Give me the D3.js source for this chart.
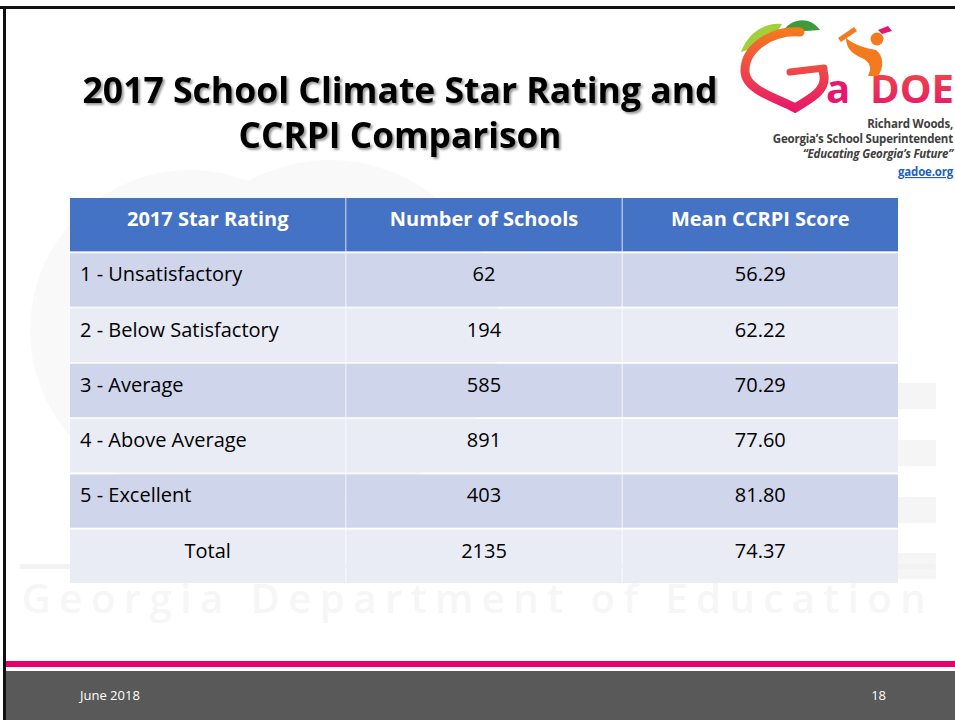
<!DOCTYPE html>
<html>
<head>
<meta charset="utf-8">
<script src="https://cdn.jsdelivr.net/npm/d3@7"></script>
<style>
  html, body { margin: 0; padding: 0; background: #fff; }
  svg { display: block; }
</style>
</head>
<body>
<svg id="slide" width="955" height="720"></svg>
<script>
// table data
const headers = ["2017 Star Rating", "Number of Schools", "Mean CCRPI Score"];
const ratings = ["1 - Unsatisfactory", "2 - Below Satisfactory", "3 - Average", "4 - Above Average", "5 - Excellent", "Total"];
const schoolCounts = ["62", "194", "585", "891", "403", "2135"];
const meanScores = ["56.29", "62.22", "70.29", "77.60", "81.80", "74.37"];

const titleLines = ["2017 School Climate Star Rating and", "CCRPI Comparison"];
const logoLines = ["Richard Woods,", "Georgia\u2019s School Superintendent", "\u201cEducating Georgia\u2019s Future\u201d", "gadoe.org"];

const svg = d3.select("#slide");
const font = "'Open Sans', 'Noto Sans', sans-serif";
const defs = svg.append("defs");

// faint background decoration
const bg = svg.append("g");
bg.append("circle").attr("cx", 190).attr("cy", 330).attr("r", 160).attr("fill", "#f9f9f9");
bg.append("circle").attr("cx", 330).attr("cy", 330).attr("r", 170).attr("fill", "#f9f9f9");
[383, 440, 497, 553].forEach(y => {
  bg.append("rect").attr("x", 880).attr("y", y).attr("width", 56).attr("height", 26).attr("fill", "#f5f5f5");
});
bg.append("rect").attr("x", 20).attr("y", 564).attr("width", 915).attr("height", 5).attr("fill", "#f2f2f2");
bg.append("text")
  .attr("x", 478).attr("y", 613)
  .attr("text-anchor", "middle")
  .attr("font-family", font)
  .attr("font-weight", 600)
  .attr("font-size", 40)
  .attr("letter-spacing", 8.5)
  .attr("fill", "#f6f6f6")
  .text("Georgia Department of Education");

// slide border
svg.append("rect").attr("x", 0).attr("y", 6).attr("width", 955).attr("height", 3).attr("fill", "#111");
svg.append("rect").attr("x", 3).attr("y", 6).attr("width", 3).attr("height", 714).attr("fill", "#111");

// title with shadow
const shadow = defs.append("filter").attr("id", "shadow").attr("x", "-5%").attr("y", "-20%").attr("width", "110%").attr("height", "150%");
shadow.append("feDropShadow").attr("dx", 2).attr("dy", 2).attr("stdDeviation", 1.2).attr("flood-color", "#000").attr("flood-opacity", 0.4);

const titleWidths = [635, 323];
svg.append("g").selectAll("text")
  .data(titleLines)
  .join("text")
  .attr("x", (d, i) => 400 - titleWidths[i] / 2)
  .attr("y", (d, i) => 103 + i * 45)
  .attr("textLength", (d, i) => titleWidths[i])
  .attr("lengthAdjust", "spacingAndGlyphs")
  .attr("font-family", font)
  .attr("font-weight", "bold")
  .attr("font-size", 36)
  .attr("fill", "#000")
  .attr("filter", "url(#shadow)")
  .text(d => d);

// logo (approximation)
const logo = svg.append("g");
const grad = defs.append("linearGradient")
  .attr("id", "logoGrad").attr("gradientUnits", "userSpaceOnUse")
  .attr("x1", 0).attr("y1", 30).attr("x2", 0).attr("y2", 110);
grad.append("stop").attr("offset", "0%").attr("stop-color", "#f47a20");
grad.append("stop").attr("offset", "100%").attr("stop-color", "#e8176b");

logo.append("path")
  .attr("d", "M741,52 C748,32 766,22 782,24 C776,36 762,46 741,52 Z")
  .attr("fill", "#a2cf3c");
logo.append("path")
  .attr("d", "M784,30 C792,18 810,16 820,30 C808,31 796,32 784,30 Z")
  .attr("fill", "#3c9a3a");
logo.append("path")
  .attr("d", "M800,32 C772,30 744,48 745,72 C746,90 776,98 795,108 C812,98 826,90 824,76 L823,70")
  .attr("fill", "none")
  .attr("stroke", "url(#logoGrad)")
  .attr("stroke-width", 9)
  .attr("stroke-linecap", "round");
logo.append("path")
  .attr("d", "M790,72 L824,68")
  .attr("stroke", "url(#logoGrad)")
  .attr("stroke-width", 7)
  .attr("stroke-linecap", "round");
logo.append("text")
  .attr("x", 826).attr("y", 103)
  .attr("font-family", font).attr("font-weight", "bold")
  .attr("font-size", 40)
  .attr("fill", "#e8176b")
  .text("a");
logo.append("text")
  .attr("x", 870).attr("y", 103)
  .attr("textLength", 84).attr("lengthAdjust", "spacingAndGlyphs")
  .attr("font-family", font).attr("font-weight", "bold")
  .attr("font-size", 40)
  .attr("fill", "url(#logoGrad)")
  .text("DOE");
// student figure
logo.append("circle").attr("cx", 877).attr("cy", 39).attr("r", 6.5).attr("fill", "#f47a20");
logo.append("path")
  .attr("d", "M846,38 C856,46 866,48 876,50 C884,56 884,68 878,76 L868,76 C872,68 870,62 862,58 C852,54 846,48 846,38 Z")
  .attr("fill", "#f47a20");
logo.append("path")
  .attr("d", "M838,38 L854,27 L857,31 L841,42 Z")
  .attr("fill", "#f47a20");
logo.append("path")
  .attr("d", "M878,30 L888,26 L892,31 L882,34 Z")
  .attr("fill", "#e8176b");

logoLines.forEach((t, i) => {
  logo.append("text")
    .attr("x", 953).attr("y", [128, 143, 158, 176][i])
    .attr("text-anchor", "end")
    .attr("font-family", font)
    .attr("font-weight", "bold")
    .attr("font-style", i === 2 ? "italic" : "normal")
    .attr("font-size", 11.5)
    .attr("letter-spacing", -0.2)
    .attr("fill", i === 3 ? "#1f5fbf" : "#404040")
    .attr("text-decoration", i === 3 ? "underline" : "none")
    .text(t);
});

// table
const rowKeys = ["header", ...ratings.map((_, i) => i)];
const x = d3.scaleBand().domain(d3.range(headers.length)).range([70, 898]).paddingInner(0.003);
const y = d3.scaleBand().domain(rowKeys).range([198, 583]).paddingInner(0.035);

const cells = [];
headers.forEach((h, c) => cells.push({ row: "header", col: c, text: h }));
ratings.forEach((r, i) => {
  cells.push({ row: i, col: 0, text: r });
  cells.push({ row: i, col: 1, text: schoolCounts[i] });
  cells.push({ row: i, col: 2, text: meanScores[i] });
});

const fillFor = d => d.row === "header" ? "#4472c4" : (d.row % 2 === 0 ? "#cfd5ea" : "#e9ebf5");
const leftAligned = d => d.col === 0 && d.row !== "header" && d.row !== ratings.length - 1;

const table = svg.append("g");
table.selectAll("rect")
  .data(cells)
  .join("rect")
  .attr("x", d => x(d.col))
  .attr("y", d => y(d.row))
  .attr("width", x.bandwidth())
  .attr("height", y.bandwidth())
  .attr("fill", fillFor);

table.selectAll("text")
  .data(cells)
  .join("text")
  .attr("x", d => leftAligned(d) ? x(d.col) + 10 : x(d.col) + x.bandwidth() / 2)
  .attr("y", d => y(d.row) + 28)
  .attr("text-anchor", d => leftAligned(d) ? "start" : "middle")
  .attr("font-family", font)
  .attr("font-weight", d => d.row === "header" ? "bold" : "normal")
  .attr("font-size", 20)
  .attr("fill", d => d.row === "header" ? "#fff" : "#000")
  .text(d => d.text);

// footer
svg.append("rect").attr("x", 6).attr("y", 661).attr("width", 949).attr("height", 6).attr("fill", "#e8006b");
svg.append("rect").attr("x", 6).attr("y", 671).attr("width", 949).attr("height", 49).attr("fill", "#595959");
svg.append("text")
  .attr("x", 80).attr("y", 700)
  .attr("font-family", font).attr("font-size", 13)
  .attr("fill", "#fff")
  .text("June 2018");
svg.append("text")
  .attr("x", 886).attr("y", 700)
  .attr("text-anchor", "end")
  .attr("font-family", font).attr("font-size", 13)
  .attr("fill", "#fff")
  .text("18");
</script>
</body>
</html>
